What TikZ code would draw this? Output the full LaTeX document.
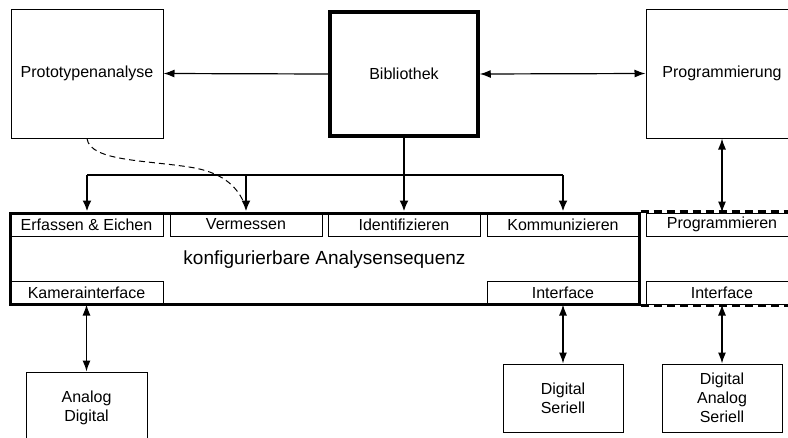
\documentclass[tikz,border=0pt]{standalone}
\usepackage{fontspec}
\setmainfont{Liberation Sans}
\usetikzlibrary{arrows.meta}
\begin{document}
\begin{tikzpicture}[x=1pt,y=-1pt,
  box/.style={draw,line width=1pt,inner sep=0pt,minimum width=152pt,font=\fontsize{16}{19}\selectfont,align=center},
  bigbox/.style={box,line width=3.5pt},
  sub/.style={draw,line width=1pt,inner sep=0pt,minimum height=23pt,font=\fontsize{16}{19}\selectfont},
  arr/.style={line width=1.2pt,-{Latex[length=11pt,width=8pt]}},
  darr/.style={line width=1.2pt,{Latex[length=11pt,width=8pt]}-{Latex[length=11pt,width=8pt]}},
  tree/.style={line width=2pt},
  treearr/.style={line width=2pt,-{Latex[length=11pt,width=9pt]}}
]
\useasboundingbox (0,0) rectangle (788,437);
\clip (0,0) rectangle (788,437);
% top row
\node[box,minimum height=129pt] (proto) at (87,73.5) {Prototypenanalyse};
\node[bigbox,minimum height=124pt,minimum width=148pt] (bib) at (404,74) {Bibliothek};
\node[box,minimum height=129pt] (prog) at (722,73.5) {Programmierung};
% main box
\node[draw,line width=3pt,inner sep=0pt,minimum width=629pt,minimum height=91pt] (main) at (324.5,258.5) {};
\node[font=\fontsize{19}{22}\selectfont] (seq) at (324.5,260) {konfigurierbare Analysensequenz};
% sub boxes
\node[sub,minimum width=153pt] (ee) at (86.5,224.5) {Erfassen \& Eichen};
\node[sub,minimum width=152pt] (verm) at (246,224.5) {Vermessen};
\node[sub,minimum width=152pt] (ident) at (404,224.5) {Identifizieren};
\node[sub,minimum width=152pt] (komm) at (563,224.5) {Kommunizieren};
\node[sub,minimum width=152pt] (progn) at (722,224.5) {Programmieren};
\node[sub,minimum width=153pt] (kam) at (86.5,292.5) {Kamerainterface};
\node[sub,minimum width=152pt] (if1) at (563,292.5) {Interface};
\node[sub,minimum width=152pt] (if2) at (722,292.5) {Interface};
% dashed extension
\draw[line width=2.5pt,dash pattern=on 8pt off 5pt] (main.north east) -- ++(170,0);
\draw[line width=2.5pt,dash pattern=on 8pt off 5pt] (main.south east) -- ++(170,0);
% bottom boxes
\node[box,minimum width=121pt,minimum height=71pt] (ad) at (86.5,407.5) {Analog\\Digital};
\node[box,minimum width=120pt,minimum height=68pt] (ds) at (563,398) {Digital\\Seriell};
\node[box,minimum width=120pt,minimum height=68pt] (das) at (722,398) {Digital\\Analog\\Seriell};
% connectors top
\draw[arr] (bib.west) -- (proto.east);
\draw[darr] (bib.east) -- (prog.west);
% tree
\coordinate (j1) at (87,175);
\coordinate (j2) at (246,175);
\coordinate (j3) at (404,175);
\coordinate (j4) at (563,175);
\draw[tree] (bib.south) -- (j3);
\draw[tree] (j1) -- (j4);
\draw[treearr] (j1) -- (j1 |- main.north);
\draw[treearr] (j2) -- (j2 |- main.north);
\draw[treearr] (j3) -- (j3 |- main.north);
\draw[treearr] (j4) -- (j4 |- main.north);
% dashed curve
\draw[line width=1pt,dash pattern=on 6pt off 4pt] (proto.south) .. controls (90,162) and (150,160) .. (195,168) .. controls (225,174) and (238,188) .. (245,205);
% vertical double arrows
\draw[darr] (prog.south) -- (progn.north);
\draw[darr] (kam.south -| ad.north) -- (ad.north);
\draw[darr] (if1.south) -- (ds.north);
\draw[darr] (if2.south) -- (das.north);
\end{tikzpicture}
\end{document}
